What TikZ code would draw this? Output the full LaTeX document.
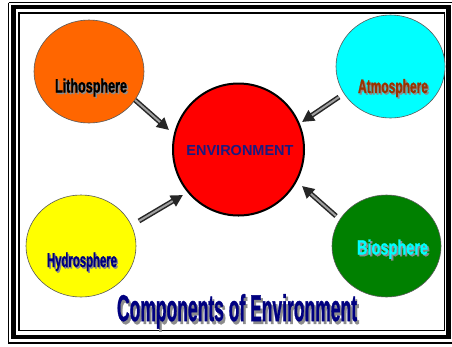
\documentclass[tikz,border=0pt]{standalone}
\usepackage{fontspec}
\setmainfont{Liberation Sans}
\newfontfamily\impactish{Liberation Sans}[BoldFeatures={FakeBold=1.3}]
\usetikzlibrary{shapes.geometric,arrows.meta}
\definecolor{lithoorange}{HTML}{FF6600}
\definecolor{atmocyan}{HTML}{00FFFF}
\definecolor{hydroyellow}{HTML}{FFFF00}
\definecolor{biogreen}{HTML}{008000}
\definecolor{envred}{HTML}{FF0000}
\definecolor{envblue}{HTML}{1A1A80}
\definecolor{navy}{HTML}{000080}
\definecolor{brownish}{HTML}{993300}
\definecolor{shgray}{HTML}{8C8C8C}
\definecolor{shaftgray}{HTML}{A0A0A0}
\newcommand\shtext[4]{\resizebox{#2}{#3}{\makebox[0pt][l]{\hspace{0.12em}\raisebox{-0.08em}{\textcolor{shgray}{#4}}}\textcolor{#1}{#4}}}
\tikzset{
  sphere/.style={ellipse, draw=black!65, line width=0.6pt, inner sep=0pt},
  lbl/.style={anchor=base, inner sep=0pt, font=\impactish\bfseries},
  arrowout/.style={draw=black!85, line width=5pt, -{Triangle[length=12pt,width=12pt]}},
  arrowin/.style={draw=shaftgray, line width=2pt, shorten >=12pt},
}
\begin{document}
\begin{tikzpicture}[x=1pt,y=-1pt]
\useasboundingbox (0,0) rectangle (452,346);
\fill[white] (0,0) rectangle (452,346);
% frame
\draw[black, line width=1.2pt] (8.5,2.5) -- (455,2.5);
\draw[black, line width=1.2pt] (8.5,2.5) -- (8.5,343) -- (455,343);
\draw[black, line width=4.5pt] (13.5,7) rectangle (448.5,337);
\draw[black, line width=1.5pt] (19,13) rectangle (444.5,330.5);
% spheres
\node[sphere, fill=lithoorange, minimum width=110pt, minimum height=103pt] (litho) at (89,71.5) {};
\node[sphere, fill=atmocyan, minimum width=109pt, minimum height=103pt] (atmo) at (390.5,66.5) {};
\node[sphere, fill=hydroyellow, minimum width=110pt, minimum height=102pt] (hydro) at (81,246) {};
\node[sphere, fill=biogreen, minimum width=109pt, minimum height=102pt] (bio) at (386.5,246) {};
\node[ellipse, draw=black, line width=2pt, fill=envred, minimum width=131pt, minimum height=132pt, inner sep=0pt] (env) at (238.5,149.5) {};
% labels
\node[anchor=base, inner sep=0pt, text=envblue, font=\fontsize{14.5}{17}\selectfont\bfseries] (envlbl) at (240,155) {ENVIRONMENT};
\node[lbl] (litholbl) at (91,92.5) {\shtext{black}{72pt}{14pt}{Lithosphere}};
\node[lbl] (atmolbl) at (393,93) {\shtext{brownish}{70pt}{14pt}{Atmosphere}};
\node[lbl] (hydrolbl) at (82,267) {\shtext{navy}{70pt}{14.5pt}{Hydrosphere}};
\node[lbl] (biolbl) at (392.5,254.5) {\shtext{atmocyan}{71pt}{15pt}{Biosphere}};
\node[lbl] (title) at (237,321) {\shtext{navy}{240pt}{27pt}{Components of Environment}};
% arrows
\coordinate (ls) at (135,100); \coordinate (lt) at (169,130);
\coordinate (as) at (339,97);  \coordinate (at) at (302,122);
\coordinate (hs) at (139,221); \coordinate (ht) at (183,195);
\coordinate (bs) at (336,216); \coordinate (bt) at (302,186);
\foreach \s/\t in {ls/lt, as/at, hs/ht, bs/bt}{
  \draw[arrowout] (\s) -- (\t);
  \draw[arrowin] (\s) -- (\t);
}
\end{tikzpicture}
\end{document}
